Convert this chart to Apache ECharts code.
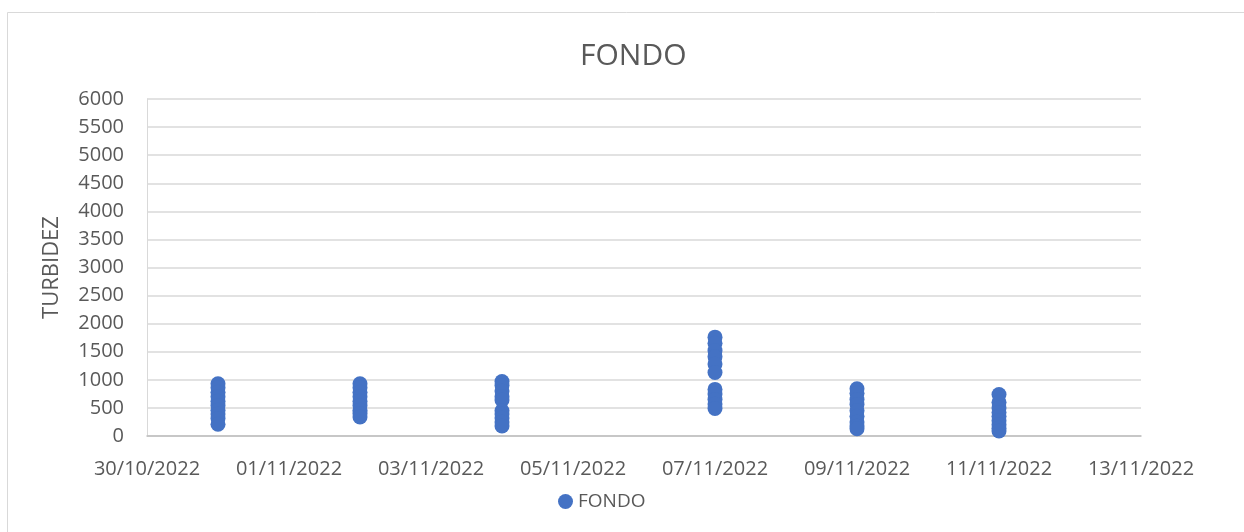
<!DOCTYPE html>
<html>
<head>
<meta charset="utf-8">
<title>FONDO</title>
<script src="https://cdn.jsdelivr.net/npm/echarts@6/dist/echarts.min.js"></script>
<style>
  html, body { margin: 0; padding: 0; background: #fff; }
  #chart { width: 1244px; height: 532px; }
</style>
</head>
<body>
<div id="chart"></div>
<script>
// turbidez en el fondo, lecturas agrupadas por día

const inicio = '30/10/2022';
const fin = '13/11/2022';

const fechas = ['31/10/2022', '02/11/2022', '04/11/2022', '07/11/2022', '09/11/2022', '11/11/2022'];

const turbidez = [
  [930, 860, 780, 700, 620, 540, 460, 390, 310, 210],
  [930, 860, 780, 700, 620, 540, 460, 400, 340],
  [970, 900, 800, 700, 640, 450, 390, 320, 250, 180],
  [1760, 1650, 1520, 1410, 1280, 1130, 830, 750, 650, 570, 490],
  [840, 760, 650, 560, 450, 350, 250, 180, 130],
  [740, 600, 500, 420, 350, 270, 200, 140, 90]
];

const yTicks = { min: 0, max: 6000, step: 500 };

const DAY = 86400000;
const toMs = s => {
  const p = s.split('/');
  return Date.UTC(+p[2], +p[1] - 1, +p[0]);
};
const t0 = toMs(inicio);
const dayOf = s => (toMs(s) - t0) / DAY;
const fmt = d => {
  const dt = new Date(t0 + d * DAY);
  const dd = String(dt.getUTCDate()).padStart(2, '0');
  const mm = String(dt.getUTCMonth() + 1).padStart(2, '0');
  return dd + '/' + mm + '/' + dt.getUTCFullYear();
};

const puntos = [];
fechas.forEach((f, i) => {
  turbidez[i].forEach(v => puntos.push([dayOf(f), v]));
});

const gris = '#595959';
const font = 'Open Sans';

const myChart = echarts.init(document.getElementById('chart'));

const option = {
  backgroundColor: '#fff',
  animation: false,
  textStyle: { fontFamily: font },
  graphic: [
    {
      type: 'rect',
      shape: { x: 7.5, y: 12.5, width: 1260, height: 540 },
      style: { fill: 'none', stroke: '#d9d9d9', lineWidth: 1 },
      silent: true
    }
  ],
  title: {
    text: 'FONDO',
    left: 575,
    top: 36,
    textStyle: { fontFamily: font, fontSize: 30, fontWeight: 'normal', color: gris }
  },
  legend: {
    data: ['FONDO'],
    left: 553,
    top: 487,
    icon: 'circle',
    itemWidth: 15,
    itemHeight: 15,
    textStyle: { fontFamily: font, fontSize: 19, color: gris }
  },
  grid: {
    left: 147,
    right: 103,
    top: 99,
    bottom: 96
  },
  xAxis: {
    type: 'value',
    min: 0,
    max: dayOf(fin),
    interval: 2,
    axisLine: { show: true, lineStyle: { color: '#bfbfbf', width: 1.5 } },
    axisTick: { show: false },
    splitLine: { show: false },
    axisLabel: {
      margin: 23,
      fontFamily: font,
      fontSize: 20,
      color: gris,
      formatter: fmt
    }
  },
  yAxis: {
    type: 'value',
    min: yTicks.min,
    max: yTicks.max,
    interval: yTicks.step,
    name: 'TURBIDEZ',
    nameLocation: 'middle',
    nameRotate: 90,
    nameGap: 84,
    nameTextStyle: { fontFamily: font, fontSize: 22, color: gris },
    axisLine: { show: true, lineStyle: { color: '#d9d9d9' } },
    axisTick: { show: false },
    splitLine: { lineStyle: { color: '#d9d9d9', width: 1.5 } },
    axisLabel: {
      margin: 23,
      fontFamily: font,
      fontSize: 20,
      color: gris,
      formatter: v => String(v)
    }
  },
  series: [
    {
      name: 'FONDO',
      type: 'scatter',
      data: puntos,
      symbol: 'circle',
      symbolSize: 15,
      itemStyle: { color: '#4472C4', opacity: 1 }
    }
  ]
};

myChart.setOption(option);
</script>
</body>
</html>
